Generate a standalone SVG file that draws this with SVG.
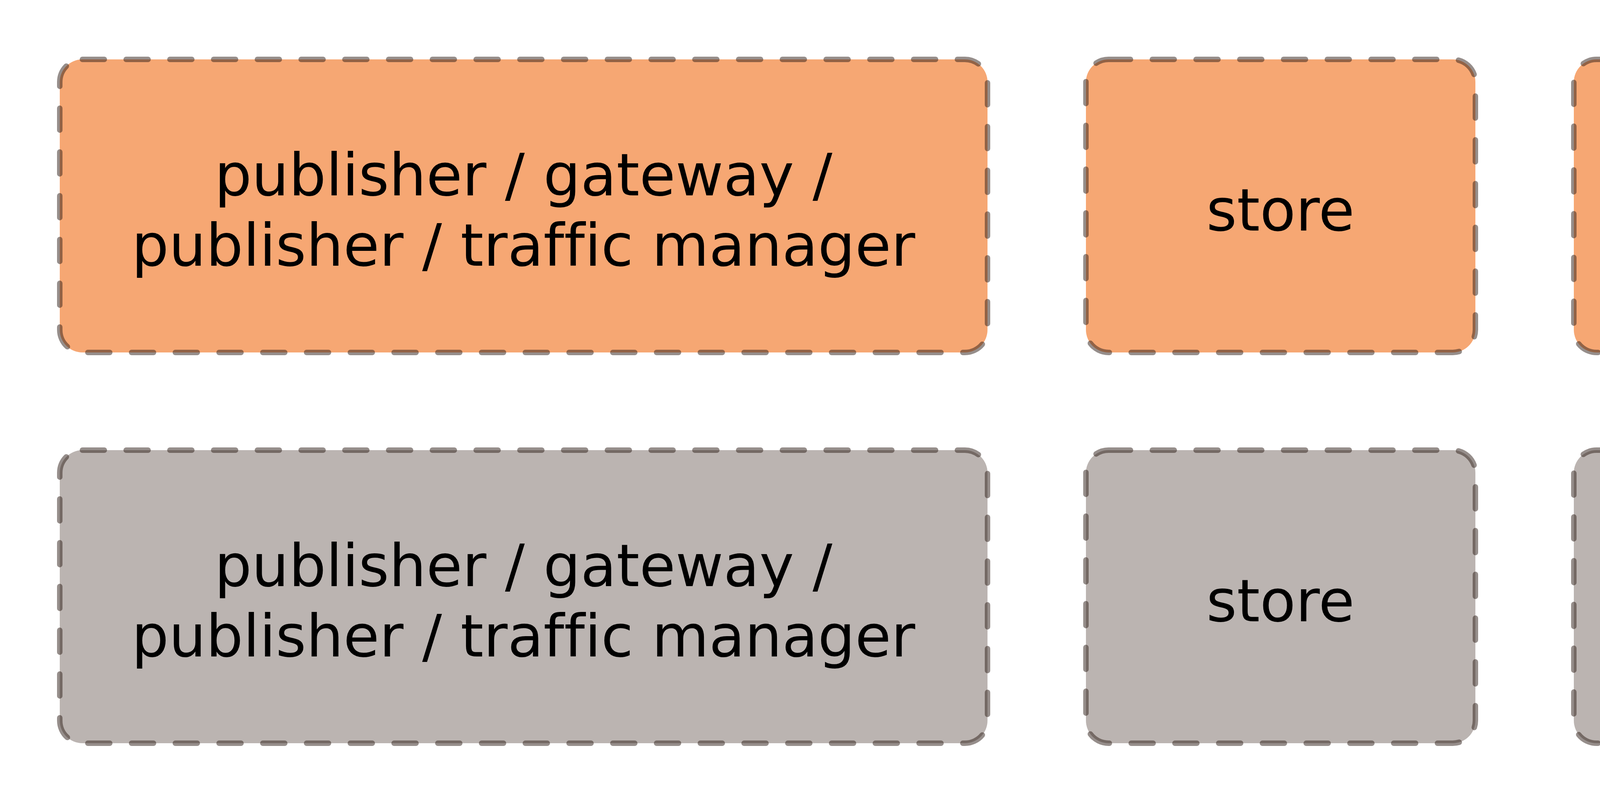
<svg xmlns="http://www.w3.org/2000/svg" width="5180" height="2055" viewBox="0 0 5180 2055">
<style>
.box{stroke:#2e1d17;stroke-opacity:0.5;stroke-width:14;stroke-dasharray:56 56;stroke-linecap:round}
.o{fill:#F6A773}
.g{fill:#BBB4B1}
.t{font-family:"DejaVu Sans",Verdana,sans-serif;font-size:150px;fill:#000;text-anchor:middle;font-variant-ligatures:none;font-feature-settings:"liga" 0}
</style>
<rect width="5180" height="2055" fill="#ffffff"/>
<g id="row1-publisher">
<rect class="box o" x="153" y="152" width="2375" height="750" rx="58"/>
<text class="t" x="1340" y="500">publisher / gateway /</text>
<text class="t" x="1340" y="680">publisher / traffic manager</text>
</g>
<g id="row1-store">
<rect class="box o" x="2780" y="152" width="997" height="750" rx="58"/>
<text class="t" x="3278" y="590">store</text>
</g>
<g id="row1-analytics">
<rect class="box o" x="4029" y="152" width="998" height="750" rx="58"/>
<text class="t" x="4528" y="590">analytics</text>
</g>
<g id="row2-publisher">
<rect class="box g" x="153" y="1152" width="2375" height="750" rx="58"/>
<text class="t" x="1340" y="1500">publisher / gateway /</text>
<text class="t" x="1340" y="1680">publisher / traffic manager</text>
</g>
<g id="row2-store">
<rect class="box g" x="2780" y="1152" width="997" height="750" rx="58"/>
<text class="t" x="3278" y="1590">store</text>
</g>
<g id="row2-analytics">
<rect class="box g" x="4029" y="1152" width="998" height="750" rx="58"/>
<text class="t" x="4528" y="1590">analytics</text>
</g>
<g id="connectors"></g>
</svg>
